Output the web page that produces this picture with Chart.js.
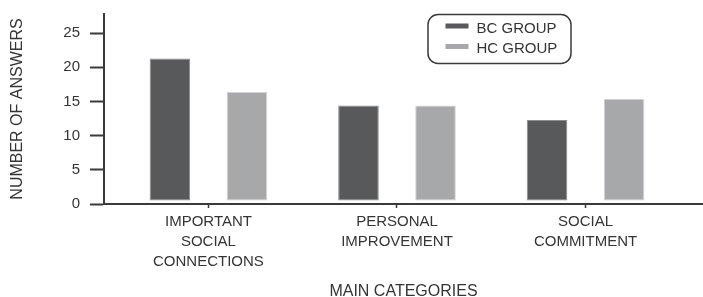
<!DOCTYPE html>
<html>
<head>
<meta charset="utf-8">
<script src="https://cdn.jsdelivr.net/npm/chart.js@4/dist/chart.umd.min.js"></script>
<style>
  html, body { margin: 0; padding: 0; background: #ffffff; }
  #wrap { width: 703px; height: 297px; position: relative; }
</style>
</head>
<body>
<div id="wrap"><canvas id="c" width="703" height="297"></canvas></div>
<script>
// ---- data ----
const categories = [
  ["IMPORTANT", "SOCIAL", "CONNECTIONS"],
  ["PERSONAL", "IMPROVEMENT"],
  ["SOCIAL", "COMMITMENT"]
];
const seriesNames = ["BC GROUP", "HC GROUP"];
const bcValues = [21.3, 14.4, 12.3];
const hcValues = [16.4, 14.4, 15.4];
const yTicks = [0, 5, 10, 15, 20, 25];
const xTitle = "MAIN CATEGORIES";
const yTitle = "NUMBER OF ANSWERS";

// ---- styles ----
const FONT = "'Liberation Sans', Arial, sans-serif";
const TEXT = "#353535";
const AXIS = "#3a3a3a";
const BC_COLOR = "#58595b";
const HC_COLOR = "#a7a8aa";

const legendBox = {
  id: 'legendBox',
  afterDraw(chart) {
    const ctx = chart.ctx;
    const ca = chart.chartArea;
    const w = 143, h = 49, r = 10;
    const x = ca.right - 275, y = ca.top + 0.5;
    ctx.save();
    ctx.lineWidth = 1.5;
    ctx.strokeStyle = AXIS;
    ctx.beginPath();
    ctx.roundRect(x, y, w, h, r);
    ctx.stroke();
    ctx.font = "15px " + FONT;
    ctx.textBaseline = "middle";
    ctx.textAlign = "left";
    chart.data.datasets.forEach((ds, i) => {
      const cy = y + 11.5 + i * 20.5;
      ctx.fillStyle = ds.backgroundColor;
      ctx.fillRect(x + 17.5, cy - 2.5, 23, 5);
      ctx.fillStyle = TEXT;
      ctx.fillText(ds.label, x + 48.5, cy + 2.5);
    });
    ctx.restore();
  }
};

const X_MIN = -0.554, X_MAX = 2.623, Y_MAX = 27.8;

new Chart(document.getElementById('c'), {
  type: 'bar',
  data: {
    datasets: [
      {
        label: seriesNames[0],
        data: bcValues.map((v, i) => ({ x: i, y: v })),
        backgroundColor: BC_COLOR,
        borderColor: "#8c8d8f",
        borderWidth: 1,
        borderSkipped: false,
        base: 0.5
      },
      {
        label: seriesNames[1],
        data: hcValues.map((v, i) => ({ x: i, y: v })),
        backgroundColor: HC_COLOR,
        borderColor: "#d2d3d4",
        borderWidth: 1,
        borderSkipped: false,
        base: 0.5
      }
    ]
  },
  options: {
    responsive: false,
    animation: false,
    devicePixelRatio: 1,
    categoryPercentage: 0.817,
    barPercentage: 0.527,
    layout: { padding: { top: 14, left: 0, right: 0, bottom: 0 } },
    plugins: {
      legend: { display: false },
      tooltip: { enabled: false }
    },
    scales: {
      x: {
        type: 'linear',
        min: X_MIN,
        max: X_MAX,
        offset: false,
        afterBuildTicks: (axis) => { axis.ticks = categories.map((_, i) => ({ value: i })); },
        afterFit: (s) => { s.height = 93; s.paddingLeft = 0; s.paddingRight = 0; },
        grid: { offset: false, drawOnChartArea: false, drawTicks: true, tickLength: 4, tickColor: AXIS, tickWidth: 1.5 },
        border: { display: true, color: AXIS, width: 2 },
        ticks: {
          autoSkip: false,
          maxRotation: 0,
          padding: 4,
          color: TEXT,
          font: { family: FONT, size: 15, lineHeight: 1.32 },
          callback: (v) => categories[Math.round(v)]
        },
        title: {
          display: true,
          text: xTitle,
          color: TEXT,
          font: { family: FONT, size: 16, lineHeight: 0.7 },
          padding: { top: 0, bottom: 0 }
        }
      },
      y: {
        min: 0,
        max: Y_MAX,
        afterBuildTicks: (axis) => { axis.ticks = yTicks.map(v => ({ value: v })); },
        afterFit: (s) => { s.width = 104; s.paddingTop = 0; s.paddingBottom = 0; },
        grid: { drawOnChartArea: false, drawTicks: true, tickLength: 14, tickColor: AXIS, tickWidth: 2 },
        border: { display: true, color: AXIS, width: 2 },
        ticks: {
          padding: 10,
          color: TEXT,
          font: { family: FONT, size: 15 }
        },
        title: {
          display: true,
          text: yTitle,
          color: TEXT,
          font: { family: FONT, size: 16, lineHeight: 1.2 },
          padding: { top: 8, bottom: 0 }
        }
      }
    }
  },
  plugins: [legendBox]
});
</script>
</body>
</html>
